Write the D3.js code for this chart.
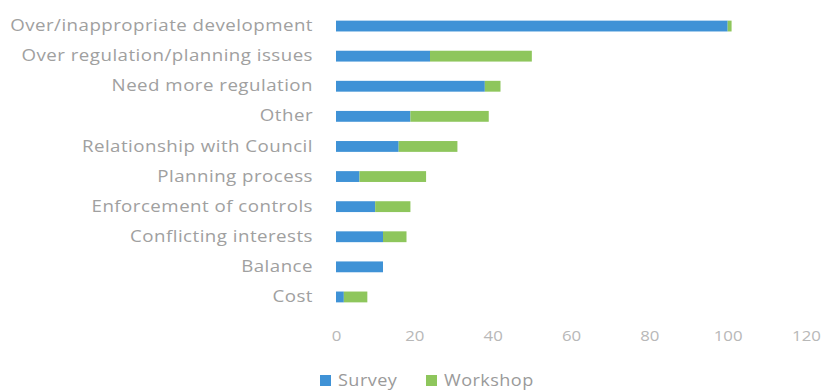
<!DOCTYPE html>
<html>
<head>
<meta charset="utf-8">
<script src="https://cdn.jsdelivr.net/npm/d3@7/dist/d3.min.js"></script>
<style>
  html, body { margin: 0; padding: 0; background: #fff; }
  svg { display: block; }
  text { font-family: "Open Sans", "Noto Sans", sans-serif; }
</style>
</head>
<body>
<svg id="chart" width="829" height="392"></svg>
<script>
// Issues raised, counted per source
const categories = [
  "Over/inappropriate development",
  "Over regulation/planning issues",
  "Need more regulation",
  "Other",
  "Relationship with Council",
  "Planning process",
  "Enforcement of controls",
  "Conflicting interests",
  "Balance",
  "Cost"
];
const surveyValues   = [100, 24, 38, 19, 16, 6, 10, 12, 12, 2];
const workshopValues = [1, 26, 4, 20, 15, 17, 9, 6, 0, 6];
const seriesNames = ["Survey", "Workshop"];
const seriesColors = ["#3f92d6", "#8ec65c"];
const tickValues = [0, 20, 40, 60, 80, 100, 120];

const rows = categories.map((c, i) => ({
  category: c,
  Survey: surveyValues[i],
  Workshop: workshopValues[i]
}));

const svg = d3.select("#chart");

const x = d3.scaleLinear().domain([0, 120]).range([336, 806]);
const y = d3.scaleBand()
  .domain(categories)
  .range([11, 312])
  .paddingInner(0.64)
  .paddingOuter(0.32);

const stack = d3.stack().keys(seriesNames);
const layers = stack(rows);
const color = d3.scaleOrdinal().domain(seriesNames).range(seriesColors);

// stacked bars
svg.append("g")
  .selectAll("g")
  .data(layers)
  .join("g")
  .attr("fill", d => color(d.key))
  .selectAll("rect")
  .data(d => d)
  .join("rect")
  .attr("x", d => x(d[0]))
  .attr("y", d => y(d.data.category))
  .attr("width", d => Math.max(0, x(d[1]) - x(d[0])))
  .attr("height", y.bandwidth());

// category axis (labels drawn slightly widened)
const yAxis = svg.append("g")
  .attr("transform", "translate(313,0)")
  .call(d3.axisLeft(y).tickSize(0).tickPadding(0));
yAxis.select(".domain").remove();
yAxis.selectAll("text")
  .attr("x", 0)
  .attr("transform", "scale(1.17,1)")
  .attr("fill", "#a0a0a0")
  .style("font-size", "16px")
  .style("letter-spacing", "0.4px");

// value axis
const xAxis = svg.append("g")
  .attr("transform", "translate(0,326)")
  .call(d3.axisBottom(x).tickValues(tickValues).tickSize(0).tickPadding(4));
xAxis.select(".domain").remove();
xAxis.selectAll(".tick text")
  .attr("x", 0)
  .attr("transform", "scale(1.12,1)")
  .attr("fill", "#b8b8b8")
  .style("font-size", "15px");

// legend
const legend = svg.append("g").attr("transform", "translate(320,375)");
const items = [
  { name: seriesNames[0], x: 0 },
  { name: seriesNames[1], x: 106 }
];
const li = legend.selectAll("g")
  .data(items)
  .join("g")
  .attr("transform", d => `translate(${d.x},0)`);
li.append("rect")
  .attr("width", 11).attr("height", 11).attr("y", 0)
  .attr("fill", d => color(d.name));
li.append("text")
  .attr("transform", "translate(18,11) scale(1.13,1)")
  .attr("fill", "#9a9a9a")
  .style("font-size", "16px")
  .style("letter-spacing", "0.4px")
  .text(d => d.name);
</script>
</body>
</html>
